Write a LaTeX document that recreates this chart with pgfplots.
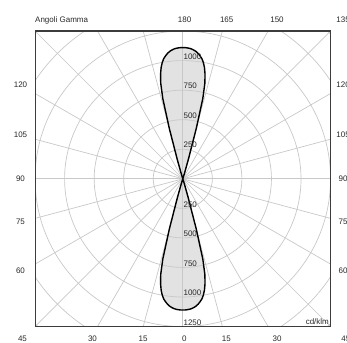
\documentclass[border=0pt]{standalone}
\usepackage{fontspec}
\setmainfont{Liberation Sans}
\usepackage{pgfplots}
\usepackage{pgfplotstable}
\pgfplotsset{compat=1.18}
\usetikzlibrary{calc}
\definecolor{gridc}{RGB}{200,200,200}
\definecolor{lobe}{RGB}{226,226,226}
\definecolor{frame}{RGB}{60,60,60}
\definecolor{txt}{RGB}{40,40,40}

% luminous intensity (cd/klm) against gamma angle, measured from the lobe axis
\pgfplotstableread{
g I
-18 0
-17 50
-16 170
-15 440
-14 700
-13 830
-12 905
-11 960
-10 1000
-9 1030
-8 1050
-7 1068
-6 1082
-5 1092
-4 1100
-3 1105
-2 1108
-1 1110
0 1110
1 1110
2 1108
3 1105
4 1100
5 1092
6 1082
7 1068
8 1050
9 1030
10 1000
11 960
12 905
13 830
14 700
15 440
16 170
17 50
18 0
}\lobetab

\begin{document}
\begin{tikzpicture}[lbl/.style={font=\fontsize{8bp}{9bp}\selectfont, text=txt, inner sep=0pt}]
\begin{axis}[
  width=295.5bp, height=295.5bp, scale only axis,
  xmin=-1250, xmax=1250, ymin=-1250, ymax=1250,
  xtick=\empty, ytick=\empty,
  axis line style={frame, line width=1.1bp},
  axis on top,
  clip=true,
]
\coordinate (c) at (axis cs:0,0);
% fills
\addplot[draw=none, fill=lobe] table[x expr={\thisrow{I}*sin(\thisrow{g})}, y expr={-\thisrow{I}*cos(\thisrow{g})}] {\lobetab};
\addplot[draw=none, fill=lobe] table[x expr={\thisrow{I}*sin(\thisrow{g})}, y expr={\thisrow{I}*cos(\thisrow{g})}] {\lobetab};
% polar grid
\pgfplotsinvokeforeach{0,15,30,45,60,75,90,105,120,135,150,165}{
  \draw[gridc, line width=0.7bp] (axis cs:{-1900*cos(#1)},{-1900*sin(#1)}) -- (axis cs:{1900*cos(#1)},{1900*sin(#1)});
}
\pgfplotsinvokeforeach{250,500,750,1000,1250,1500,1750}{
  \draw[gridc, line width=0.7bp] (axis cs:0,0) circle[radius=#1];
}
% outlines
\addplot[black, line width=1.4bp] table[x expr={\thisrow{I}*sin(\thisrow{g})}, y expr={-\thisrow{I}*cos(\thisrow{g})}] {\lobetab};
\addplot[black, line width=1.4bp] table[x expr={\thisrow{I}*sin(\thisrow{g})}, y expr={\thisrow{I}*cos(\thisrow{g})}] {\lobetab};
\end{axis}
\pgfresetboundingbox
\path[use as bounding box] ($(c)+(-182.8bp,-164.2bp)$) rectangle ($(c)+(164.2bp,178.8bp)$);
% top row
\node[lbl, anchor=base west] at ($(c)+(-147.8bp,155.9bp)$) {Angoli Gamma};
\node[lbl] at ($(c)+(1.8bp,158.8bp)$) {180};
\node[lbl] at ($(c)+(43.9bp,158.8bp)$) {165};
\node[lbl] at ($(c)+(94.2bp,158.8bp)$) {150};
\node[lbl] at ($(c)+(160.3bp,158.8bp)$) {135};
% bottom row
\node[lbl] at ($(c)+(-160.3bp,-159.5bp)$) {45};
\node[lbl] at ($(c)+(-90.3bp,-159.5bp)$) {30};
\node[lbl] at ($(c)+(-39.8bp,-159.5bp)$) {15};
\node[lbl] at ($(c)+(1.5bp,-159.5bp)$) {0};
\node[lbl] at ($(c)+(43.5bp,-159.5bp)$) {15};
\node[lbl] at ($(c)+(94.2bp,-159.5bp)$) {30};
\node[lbl] at ($(c)+(163bp,-159.5bp)$) {45};
% left column
\node[lbl] at ($(c)+(-162.3bp,94bp)$) {120};
\node[lbl] at ($(c)+(-162.3bp,44.3bp)$) {105};
\node[lbl] at ($(c)+(-162.3bp,0.5bp)$) {90};
\node[lbl] at ($(c)+(-162.3bp,-42.9bp)$) {75};
\node[lbl] at ($(c)+(-162.3bp,-91.9bp)$) {60};
% right column
\node[lbl] at ($(c)+(160.3bp,94bp)$) {120};
\node[lbl] at ($(c)+(160.3bp,44.3bp)$) {105};
\node[lbl] at ($(c)+(160.3bp,0.5bp)$) {90};
\node[lbl] at ($(c)+(160.3bp,-42.9bp)$) {75};
\node[lbl] at ($(c)+(160.3bp,-91.9bp)$) {60};
% ring values
\foreach \r/\v in {29.56/250,59.12/500,88.68/750,118.24/1000}{
  \node[lbl, anchor=south west, inner xsep=0.6bp, inner ysep=1bp] at ($(c)+(0,\r bp)$) {\v};
}
\foreach \r/\v in {29.56/250,59.12/500,88.68/750,118.24/1000,147.8/1250}{
  \node[lbl, anchor=south west, inner xsep=0.6bp, inner ysep=1bp] at ($(c)+(0,-\r bp)$) {\v};
}
\node[lbl, anchor=south east, inner sep=1.5bp] at ($(c)+(147.8bp,-147.3bp)$) {cd/klm};
\end{tikzpicture}
\end{document}
